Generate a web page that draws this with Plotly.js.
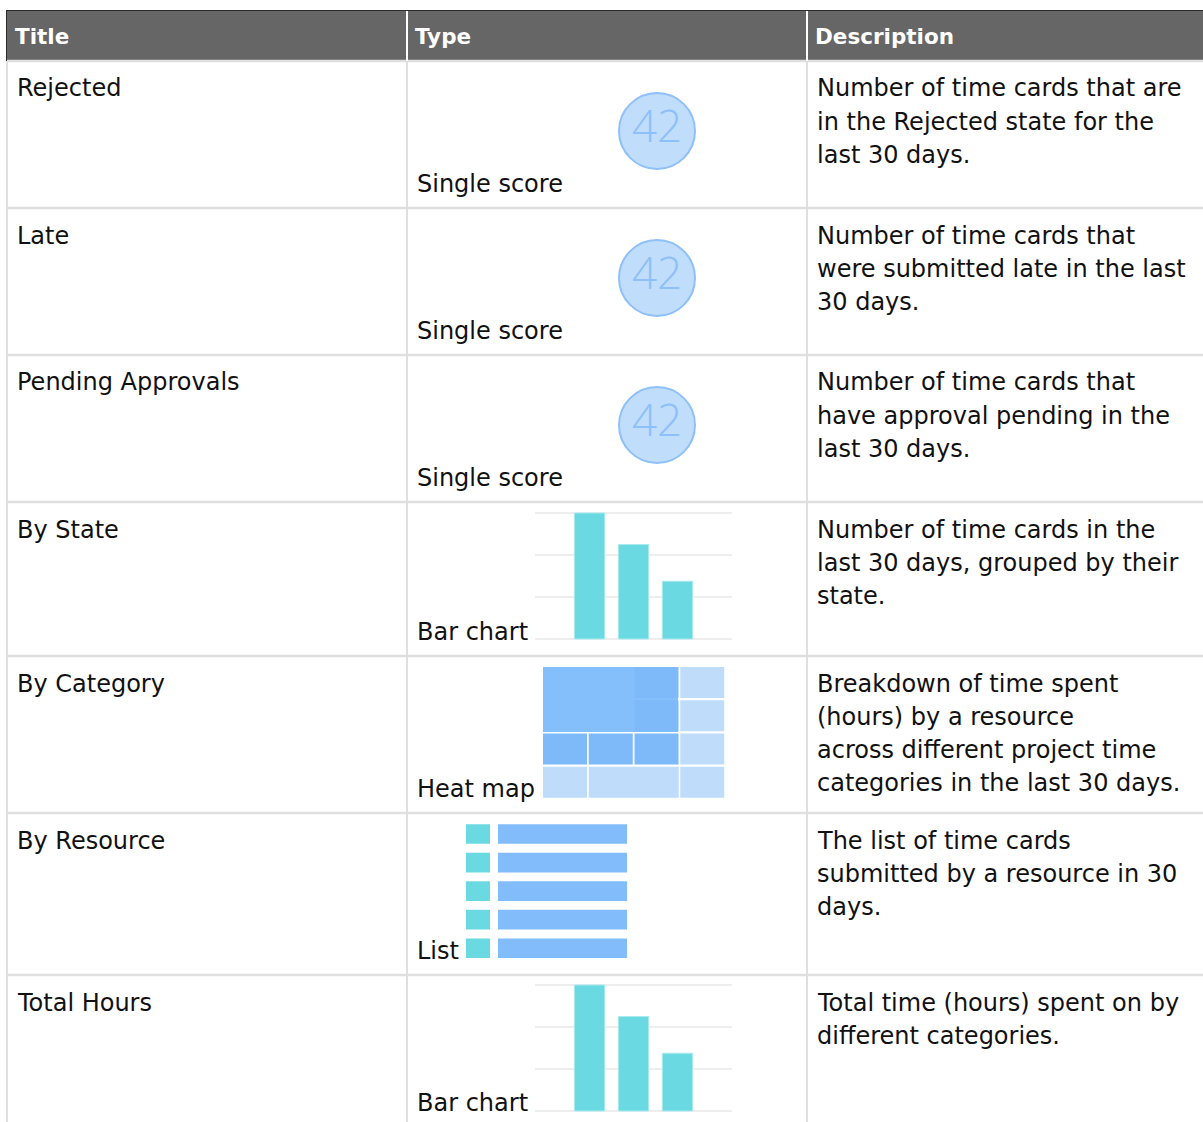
<!DOCTYPE html>
<html><head><meta charset="utf-8">
<script src="https://cdn.plot.ly/plotly-3.0.1.min.js"></script>
<style>html,body{margin:0;padding:0;background:#fff;overflow:hidden}#chart{width:1203px;height:1122px}</style>
</head><body><div id="chart"></div>
<script>
// ---------------- data ----------------
const columnHeaders = ['Title', 'Type', 'Description'];
const titles = ['Rejected', 'Late', 'Pending Approvals', 'By State', 'By Category', 'By Resource', 'Total Hours'];
const types = ['Single score', 'Single score', 'Single score', 'Bar chart', 'Heat map', 'List', 'Bar chart'];
const descriptions = [
  ['Number of time cards that are', 'in the Rejected state for the', 'last 30 days.'],
  ['Number of time cards that', 'were submitted late in the last', '30 days.'],
  ['Number of time cards that', 'have approval pending in the', 'last 30 days.'],
  ['Number of time cards in the', 'last 30 days, grouped by their', 'state.'],
  ['Breakdown of time spent', '(hours) by a resource', 'across different project time', 'categories in the last 30 days.'],
  ['The list of time cards', 'submitted by a resource in 30', 'days.'],
  ['Total time (hours) spent on by', 'different categories.']
];
const scoreValue = 42;
const barCategories = [0, 1, 2];
const stateCounts = [24, 18, 11];
const hourTotals = [24, 18, 11];
// heat map cells (column/row spans in grid units) and their shade level
const heatX0 = [0, 2, 2, 3, 3, 0, 1, 2, 3, 0, 1, 3];
const heatX1 = [3, 3, 3, 4, 4, 1, 2, 3, 4, 1, 3, 4];
const heatY0 = [0, 0, 1, 0, 1, 2, 2, 2, 2, 3, 3, 3];
const heatY1 = [2, 1, 2, 1, 2, 3, 3, 3, 3, 4, 4, 4];
const heatLevel = [1, 2, 2, 0, 0, 2, 2, 2, 0, 0, 0, 0];
const listRows = [0, 1, 2, 3, 4];
const listKeys = [1, 1, 1, 1, 1];
const listValues = [1, 1, 1, 1, 1];

// ---------------- layout helpers ----------------
const W = 1203, H = 1122;
const fx = x => x / W;
const fy = y => 1 - y / H;
const FONT = '"DejaVu Sans", "Open Sans", sans-serif';
const rowTops = [61, 208, 355, 502, 656, 813, 975];
const rowBottoms = [208, 355, 502, 656, 813, 975, 1127];
const colLeft = [7, 407, 807];
const TEAL = '#6bd9e1';
const BLUE = '#82bcfb';

const traces = [];
const layout = {
  width: W, height: H,
  margin: {l: 0, r: 0, t: 0, b: 0},
  paper_bgcolor: '#ffffff', plot_bgcolor: 'rgba(0,0,0,0)',
  showlegend: false,
  bargap: 0.31,
  shapes: [], annotations: [],
  font: {family: FONT}
};

function hiddenAxis(extra) {
  return Object.assign({showgrid: false, zeroline: false, showticklabels: false, ticks: '', showline: false, fixedrange: true}, extra);
}
let axN = 0;
function addAxes(x0, x1, y0, y1, xa, ya) {
  axN += 1;
  const s = axN === 1 ? '' : String(axN);
  layout['xaxis' + s] = hiddenAxis(Object.assign({domain: [fx(x0), fx(x1)], anchor: 'y' + s}, xa));
  layout['yaxis' + s] = hiddenAxis(Object.assign({domain: [fy(y1), fy(y0)], anchor: 'x' + s}, ya));
  return {xaxis: 'x' + s, yaxis: 'y' + s};
}

// ---------------- table grid ----------------
layout.shapes.push({type: 'rect', xref: 'paper', yref: 'paper', x0: fx(6), x1: fx(W + 5), y0: fy(61), y1: fy(10), fillcolor: '#666666', line: {width: 0}, layer: 'below'});
layout.shapes.push({type: 'line', xref: 'paper', yref: 'paper', x0: fx(6), x1: fx(W + 5), y0: fy(10.5), y1: fy(10.5), line: {color: '#2a2a2a', width: 1}});
layout.shapes.push({type: 'line', xref: 'paper', yref: 'paper', x0: fx(6.5), x1: fx(6.5), y0: fy(10), y1: fy(61), line: {color: '#2a2a2a', width: 1}});
[407, 807].forEach(x => layout.shapes.push({type: 'line', xref: 'paper', yref: 'paper', x0: fx(x), x1: fx(x), y0: fy(11), y1: fy(61), line: {color: '#ffffff', width: 2}}));
rowTops.forEach(y => layout.shapes.push({type: 'line', xref: 'paper', yref: 'paper', x0: fx(6), x1: fx(W + 5), y0: fy(y), y1: fy(y), line: {color: '#dfdfdf', width: 2.5}, layer: 'below'}));
colLeft.forEach(x => layout.shapes.push({type: 'line', xref: 'paper', yref: 'paper', x0: fx(x), x1: fx(x), y0: fy(61), y1: fy(H + 5), line: {color: '#dfdfdf', width: 2}, layer: 'below'}));

// ---------------- text ----------------
function addText(text, x, y, size, color, bold) {
  layout.annotations.push({
    xref: 'paper', yref: 'paper', x: fx(x), y: fy(y), xanchor: 'left', yanchor: 'middle',
    text: bold ? '<b>' + text + '</b>' : text, showarrow: false, borderpad: 0,
    font: {family: FONT, size: size, color: color}
  });
}
columnHeaders.forEach((h, i) => addText(h, colLeft[i] + 7, 36, 21.5, '#ffffff', true));
titles.forEach((t, i) => addText(t, 16, rowTops[i] + 27.5, 24, '#111111', false));
types.forEach((t, i) => addText(t, 416, rowBottoms[i] - 24, 24, '#111111', false));
descriptions.forEach((lines, i) => lines.forEach((l, j) => addText(l, 816, rowTops[i] + 27.5 + j * 33.3, 24, '#111111', false)));

// ---------------- icons ----------------
// single score circles
[0, 1, 2].forEach(i => {
  const cy = rowTops[i] + 70;
  const ax = addAxes(617, 697, cy - 40, cy + 40, {range: [-1, 1]}, {range: [-1, 1]});
  traces.push(Object.assign({
    type: 'scatter', mode: 'markers+text', x: [0], y: [0], text: [String(scoreValue)],
    textposition: 'middle center', cliponaxis: false, hoverinfo: 'skip',
    textfont: {family: '"Open Sans", sans-serif', weight: 300, size: 44, color: '#8dbff9'},
    marker: {size: 76, color: '#c0ddfb', line: {color: '#8ec0fa', width: 2}}
  }, ax));
});

// bar charts
function addBarChart(values, top) {
  const pad = 0.4, pxPerUnit = 126 / 24;
  const ax = addAxes(535, 732, top - pad * pxPerUnit, top + 126 + pad * pxPerUnit,
    {range: [-1.24, 3.24]},
    {range: [-pad, 24 + pad], dtick: 8, tick0: 0, showgrid: true, gridcolor: '#eeeeee', gridwidth: 2});
  traces.push(Object.assign({
    type: 'bar', x: barCategories, y: values, hoverinfo: 'skip',
    marker: {color: TEAL, line: {color: '#a9ebef', width: 1}}
  }, ax));
}
addBarChart(stateCounts, 513);
addBarChart(hourTotals, 985);

// heat map
{
  const ax = addAxes(542, 725, 666, 799, {range: [0, 4]}, {range: [4, 0]});
  heatLevel.forEach((lv, k) => {
    traces.push(Object.assign({
      type: 'heatmap', x: [heatX0[k], heatX1[k]], y: [heatY0[k], heatY1[k]], z: [[lv]],
      zmin: 0, zmax: 2, showscale: false, hoverinfo: 'skip', xgap: 2, ygap: 2,
      colorscale: [[0, '#bfdcfa'], [0.5, '#84befb'], [1, '#7eb9f9']]
    }, ax));
  });
}

// list
{
  const ax1 = addAxes(466, 490, 819.75, 962.5, {range: [0, 1]}, {range: [4.5, -0.5]});
  traces.push(Object.assign({type: 'bar', orientation: 'h', x: listKeys, y: listRows, hoverinfo: 'skip',
    marker: {color: TEAL, line: {width: 0}}}, ax1));
  const ax2 = addAxes(498, 627, 819.75, 962.5, {range: [0, 1]}, {range: [4.5, -0.5]});
  traces.push(Object.assign({type: 'bar', orientation: 'h', x: listValues, y: listRows, hoverinfo: 'skip',
    marker: {color: BLUE, line: {width: 0}}}, ax2));
}

Plotly.newPlot('chart', traces, layout, {staticPlot: true, displayModeBar: false});
</script>
</body></html>
